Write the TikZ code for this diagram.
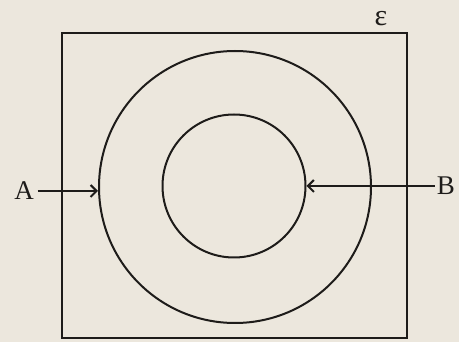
\documentclass[tikz,border=0pt]{standalone}
\usepackage{xcolor}
\usepackage{fontspec}
\setmainfont{Liberation Serif}
\usetikzlibrary{arrows.meta, positioning, calc}
\definecolor{paper}{RGB}{236,231,221}
\definecolor{ink}{RGB}{30,28,26}

\begin{document}
\begin{tikzpicture}[x=1pt, y=-1pt, line width=2pt, draw=ink,
    every node/.style={inner sep=0pt, text=ink, font=\fontsize{27}{30}\selectfont},
    ring/.style={circle, draw=ink, line width=2pt},
    pointer/.style={draw=ink, -{Straight Barb[length=6pt, width=12pt]}}]
    \fill[paper] (0,0) rectangle (459,342);
    \useasboundingbox (0,0) rectangle (459,342);
    % universal set
    \node[draw=ink, line width=2pt, minimum width=345pt, minimum height=305pt] (univ) at (234,186) {};
    \node[anchor=base, text height=14pt, text depth=0pt,
        font=\fontsize{30}{32}\selectfont] (eps) at (381,26) {ε};
    % the two sets
    \node[ring, minimum size=272pt] (outer) at (235,187) {};
    \node[ring, minimum size=143pt] (inner) at (234,186) {};
    % labels
    \node (A) at (24,191) {A};
    \node (B) at (446,186) {B};
    \draw[pointer] ($(A.east)+(3,0)$) -- (A.east -| outer.west);
    \draw[pointer] ($(B.west)+(-1,0)$) -- (B.west -| inner.east);
\end{tikzpicture}
\end{document}
